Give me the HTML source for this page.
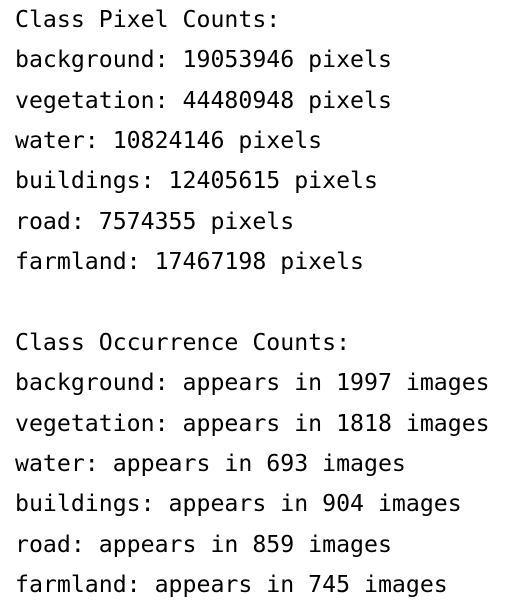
<!DOCTYPE html>
<html><head><meta charset="utf-8"><style>
html,body{margin:0;padding:0;background:#fff;width:523px;height:609px;overflow:hidden}
pre{margin:0;padding:0 0 0 15px;font-family:"DejaVu Sans Mono","Liberation Mono",monospace;font-size:23.2px;line-height:40.36px;color:#000}
</style></head><body><pre>Class Pixel Counts:
background: 19053946 pixels
vegetation: 44480948 pixels
water: 10824146 pixels
buildings: 12405615 pixels
road: 7574355 pixels
farmland: 17467198 pixels

Class Occurrence Counts:
background: appears in 1997 images
vegetation: appears in 1818 images
water: appears in 693 images
buildings: appears in 904 images
road: appears in 859 images
farmland: appears in 745 images</pre></body></html>
